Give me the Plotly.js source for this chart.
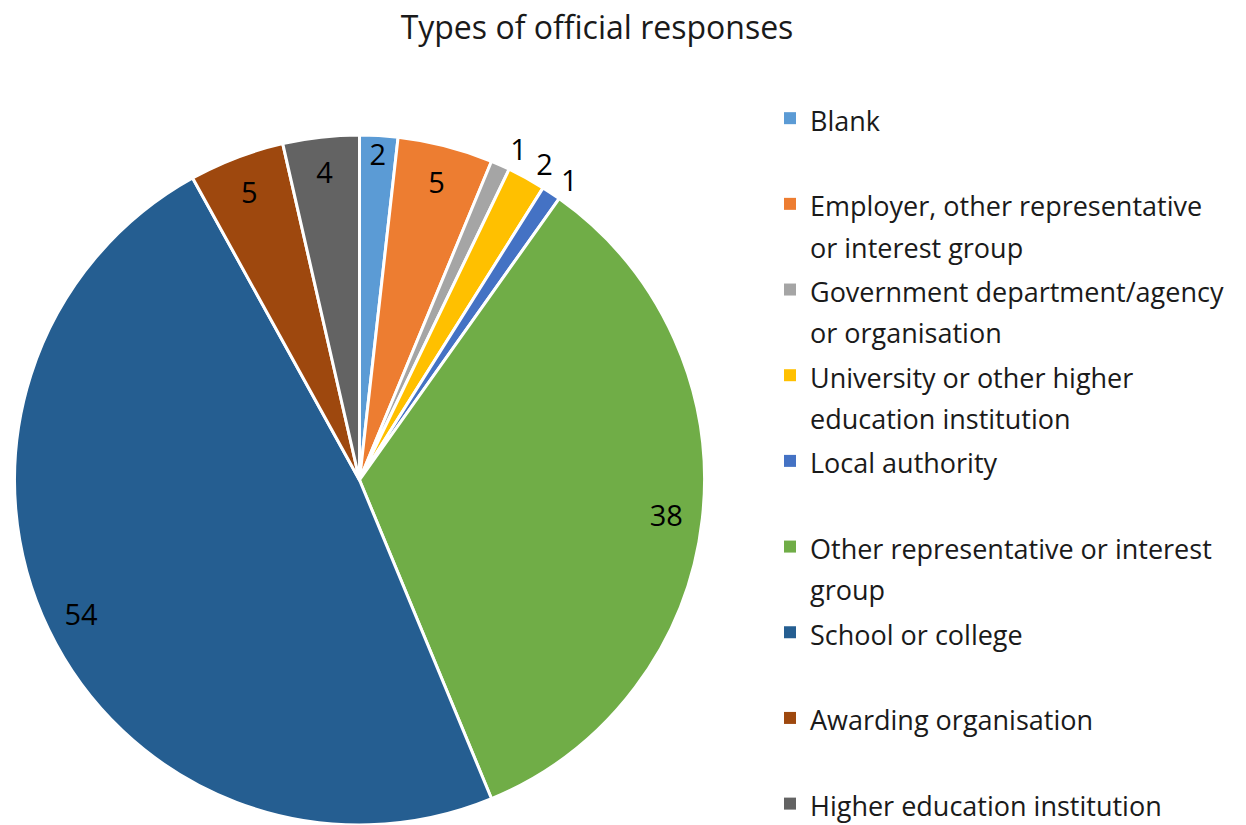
<!DOCTYPE html>
<html>
<head>
<meta charset="utf-8">
<script src="https://cdn.plot.ly/plotly-3.0.1.min.js"></script>
<style>html,body{margin:0;padding:0;background:#fff;}#chart{width:1246px;height:825px;}</style>
</head>
<body>
<div id="chart"></div>
<script>
const categories = [
  "Blank",
  "Employer, other representative<br>or interest group",
  "Government department/agency<br>or organisation",
  "University or other higher<br>education institution",
  "Local authority",
  "Other representative or interest<br>group",
  "School or college",
  "Awarding organisation",
  "Higher education institution"
];
const counts = [2, 5, 1, 2, 1, 38, 54, 5, 4];
const sliceColors = ["#5B9BD5", "#ED7D31", "#A5A5A5", "#FFC000", "#4472C4", "#70AD47", "#255E91", "#9E480E", "#636363"];
const labelPositions = ["inside", "inside", "outside", "outside", "outside", "inside", "inside", "inside", "inside"];

// legend entries: every entry except the last padded to two lines so spacing is uniform
const legendLabels = categories.map((c, i) => {
  const n = c.split("<br>").length;
  const pad = (i < categories.length - 1 && n < 2) ? "<br>\u00a0" : "";
  return '<span style="font-size:27px">' + c.split("<br>").join('</span><br><span style="font-size:27px">') + '</span>' + pad;
});

const domain = {x: [13/1246, 706/1246], y: [0, 690/825]};
const labelFont = {family: "Open Sans, sans-serif", size: 29, color: "#000000"};
const clear = sliceColors.map(() => "rgba(0,0,0,0)");

// legend-only copy underneath (borderless squares in the legend)
const legendPie = {
  type: "pie",
  labels: legendLabels,
  values: counts,
  sort: false,
  direction: "clockwise",
  rotation: 0,
  domain: domain,
  marker: {colors: sliceColors, line: {width: 0}},
  textinfo: "none",
  hoverinfo: "skip",
  showlegend: true
};

const mainPie = {
  type: "pie",
  labels: legendLabels,
  values: counts,
  sort: false,
  direction: "clockwise",
  rotation: 0,
  domain: domain,
  marker: {colors: sliceColors, line: {color: "#ffffff", width: 3}},
  textinfo: "none",
  hoverinfo: "value",
  showlegend: false
};

const insideLabelPie = {
  type: "pie",
  labels: legendLabels,
  values: counts,
  sort: false,
  direction: "clockwise",
  rotation: 0,
  hole: 0.79,
  domain: domain,
  marker: {colors: clear, line: {width: 0}},
  texttemplate: "%{value}",
  textposition: labelPositions.map(p => p === "inside" ? "inside" : "none"),
  insidetextorientation: "horizontal",
  textfont: labelFont,
  hoverinfo: "skip",
  showlegend: false
};

// one trace per outside label so that labels are not pushed apart with leader lines
const outsideLabelPies = labelPositions
  .map((p, i) => p === "outside" ? i : -1)
  .filter(i => i >= 0)
  .map(idx => ({
    type: "pie",
    labels: legendLabels,
    values: counts,
    sort: false,
    direction: "clockwise",
    rotation: 0,
    domain: domain,
    marker: {colors: clear, line: {width: 0}},
    texttemplate: "%{value}",
    textposition: labelPositions.map((p, j) => j === idx ? "outside" : "none"),
    textfont: labelFont,
    hoverinfo: "skip",
    showlegend: false
  }));

const layout = {
  width: 1246,
  height: 825,
  margin: {l: 0, r: 0, t: 0, b: 0, autoexpand: false},
  paper_bgcolor: "#ffffff",
  uniformtext: {mode: "show", minsize: 29},
  title: {
    text: "Types of official responses",
    x: 597/1246, xanchor: "center",
    y: 1 - 28/825, yanchor: "middle",
    font: {family: "Open Sans, sans-serif", size: 32, color: "#1a1a1a"}
  },
  legend: {
    x: 770/1246, xanchor: "left",
    y: 1 - 91/825, yanchor: "top",
    valign: "top",
    maxheight: 2000,
    font: {family: "Open Sans, sans-serif", size: 31.8, color: "#1a1a1a"},
    bgcolor: "rgba(0,0,0,0)"
  },
  showlegend: true
};

Plotly.newPlot("chart", [legendPie, mainPie, insideLabelPie, ...outsideLabelPies], layout, {displayModeBar: false});
</script>
</body>
</html>
